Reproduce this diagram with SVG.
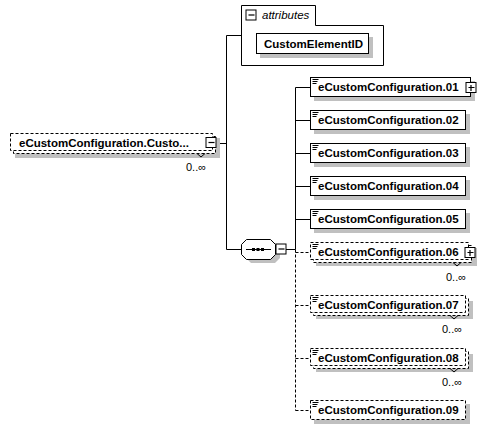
<svg xmlns="http://www.w3.org/2000/svg" width="489" height="431" viewBox="0 0 489 431">
<style>
.sh{fill:#c0c0c0;stroke:none}
.bx{fill:#fff;stroke:#000;stroke-width:1}
.dbx{fill:#fff;stroke:#000;stroke-width:1;stroke-dasharray:3,2}
.ln{fill:none;stroke:#000;stroke-width:1}
.dln{fill:none;stroke:#000;stroke-width:1;stroke-dasharray:3,2}
.t{font-family:"Liberation Sans",Arial,sans-serif;font-size:11.5px;font-weight:bold;fill:#000}
.it{font-family:"Liberation Sans",Arial,sans-serif;font-size:11.5px;font-style:italic;fill:#000}
.oc{font-family:"Liberation Sans",Arial,sans-serif;font-size:11px;fill:#000}
.btn{fill:#fff;stroke:#000;stroke-width:1}
</style>
<defs>
<g id="ic"><path d="M0.5,0.5h6M0.5,2.5h5M0.5,4.5h4" fill="none" stroke="#000" stroke-width="1"/></g>
<g id="plus"><rect x="0.5" y="0.5" width="10" height="10" class="btn"/><path d="M3,5.5h6M5.5,3v6" stroke="#000" stroke-width="1.2"/></g>
<g id="minus"><rect x="0.5" y="0.5" width="10" height="10" class="btn"/><path d="M3,5.5h6" stroke="#000" stroke-width="1.2"/></g>
</defs>

<g id="connectors">
<path class="ln" d="M216,143.5H226.5M226.5,35.5V249.5M226.5,35.5H241M226.5,249.5H241"/>
<path class="ln" d="M286,249.5H295.5M295.5,87.5V249.5"/>
<path class="ln" d="M295.5,87.5H310M295.5,120.5H310M295.5,153.5H310M295.5,186.5H310M295.5,219.5H310"/>
<path class="dln" d="M295.5,249.5V410.5M295.5,252.5H310M295.5,305.5H310M295.5,358.5H310M295.5,410.5H310"/>
</g>

<g id="root">
<rect class="sh" x="15" y="138" width="205" height="20"/>
<rect class="dbx" x="13.5" y="136.5" width="202" height="17"/>
<rect class="dbx" x="10.5" y="133.5" width="202" height="17"/>
<text class="t" x="19" y="147">eCustomConfiguration.Custo...</text>
<use href="#minus" x="205.5" y="137"/>
<path class="ln" d="M197,153.5l4,3.5l4,-3.5"/>
<text class="oc" x="186" y="171">0..∞</text>
</g>

<g id="attributes">
<path class="bx" d="M241.5,65.5V5.5H315.5V25.5H383.5V65.5Z"/>
<use href="#minus" x="245.5" y="9.5"/>
<text class="it" x="262" y="19">attributes</text>
<g id="CustomElementID">
<rect class="sh" x="260" y="37" width="113" height="21"/>
<rect class="bx" x="256.5" y="33.5" width="112" height="20"/>
<text class="t" x="264" y="48">CustomElementID</text>
</g>
</g>

<g id="sequence">
<path class="sh" d="M251,243H275L280,248V258L275,263H251L246,258V248Z"/>
<path class="bx" d="M246.5,239.5H270.5L275.5,244.5V254.5L270.5,259.5H246.5L241.5,254.5V244.5Z"/>
<path class="ln" d="M246,249.5H271"/>
<rect x="252" y="248" width="3" height="3" fill="#000"/>
<rect x="256.5" y="248" width="3" height="3" fill="#000"/>
<rect x="261" y="248" width="3" height="3" fill="#000"/>
<use href="#minus" x="275.5" y="243.5"/>
</g>

<g id="e01">
<rect class="sh" x="314" y="81" width="161" height="20"/>
<rect class="bx" x="310.5" y="77.5" width="160" height="19"/>
<use href="#ic" x="312" y="79"/>
<text class="t" x="318" y="91">eCustomConfiguration.01</text>
<use href="#plus" x="465.5" y="82"/>
</g>
<g id="e02">
<rect class="sh" x="314" y="114" width="156" height="20"/>
<rect class="bx" x="310.5" y="110.5" width="155" height="19"/>
<use href="#ic" x="312" y="112"/>
<text class="t" x="318" y="124">eCustomConfiguration.02</text>
</g>
<g id="e03">
<rect class="sh" x="314" y="147" width="156" height="20"/>
<rect class="bx" x="310.5" y="143.5" width="155" height="19"/>
<use href="#ic" x="312" y="145"/>
<text class="t" x="318" y="157">eCustomConfiguration.03</text>
</g>
<g id="e04">
<rect class="sh" x="314" y="180" width="156" height="20"/>
<rect class="bx" x="310.5" y="176.5" width="155" height="19"/>
<use href="#ic" x="312" y="178"/>
<text class="t" x="318" y="190">eCustomConfiguration.04</text>
</g>
<g id="e05">
<rect class="sh" x="314" y="213" width="156" height="20"/>
<rect class="bx" x="310.5" y="209.5" width="155" height="19"/>
<use href="#ic" x="312" y="211"/>
<text class="t" x="318" y="223">eCustomConfiguration.05</text>
</g>
<g id="e06">
<rect class="sh" x="316" y="248" width="161" height="18"/>
<rect class="dbx" x="313.5" y="245.5" width="158" height="17"/>
<rect class="dbx" x="310.5" y="242.5" width="158" height="17"/>
<use href="#ic" x="312" y="244"/>
<text class="t" x="318" y="256">eCustomConfiguration.06</text>
<use href="#plus" x="464.5" y="247"/>
<path class="ln" d="M453,262.5l4,3.5l4,-3.5"/>
<text class="oc" x="446" y="281">0..∞</text>
</g>
<g id="e07">
<rect class="sh" x="316" y="301" width="157" height="18"/>
<rect class="dbx" x="313.5" y="298.5" width="155" height="17"/>
<rect class="dbx" x="310.5" y="295.5" width="155" height="17"/>
<use href="#ic" x="312" y="297"/>
<text class="t" x="318" y="309">eCustomConfiguration.07</text>
<path class="ln" d="M450,315.5l4,3.5l4,-3.5"/>
<text class="oc" x="442" y="333">0..∞</text>
</g>
<g id="e08">
<rect class="sh" x="316" y="354" width="157" height="18"/>
<rect class="dbx" x="313.5" y="351.5" width="155" height="17"/>
<rect class="dbx" x="310.5" y="348.5" width="155" height="17"/>
<use href="#ic" x="312" y="350"/>
<text class="t" x="318" y="362">eCustomConfiguration.08</text>
<path class="ln" d="M450,368.5l4,3.5l4,-3.5"/>
<text class="oc" x="442" y="386">0..∞</text>
</g>
<g id="e09">
<rect class="sh" x="314" y="404" width="156" height="20"/>
<rect class="dbx" x="310.5" y="400.5" width="155" height="19"/>
<use href="#ic" x="312" y="402"/>
<text class="t" x="318" y="414">eCustomConfiguration.09</text>
</g>
</svg>
